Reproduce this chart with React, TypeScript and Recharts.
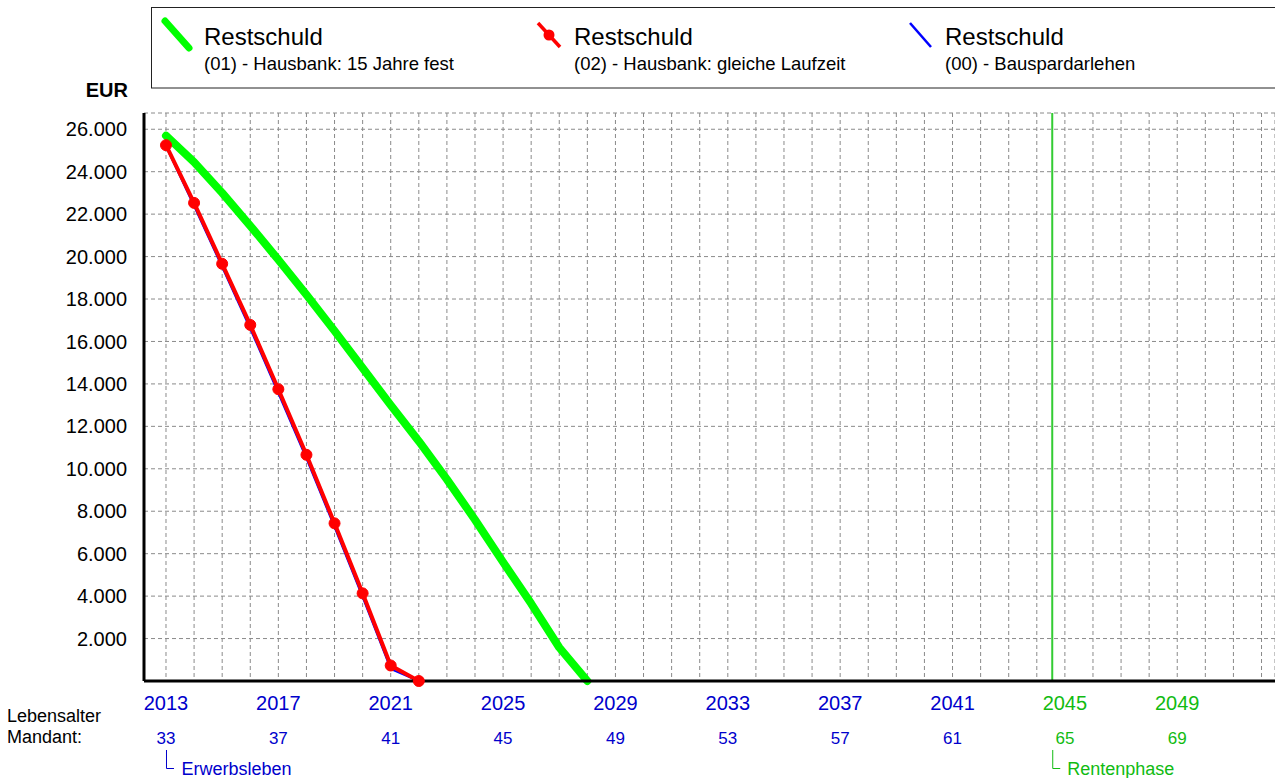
import React from 'react';
import { LineChart, Line, XAxis, YAxis, CartesianGrid, ReferenceLine } from 'recharts';

// ---- data ----
const YEARS = [2013, 2014, 2015, 2016, 2017, 2018, 2019, 2020, 2021, 2022, 2023, 2024, 2025, 2026, 2027, 2028];
const RESTSCHULD_01 = [25700, 24450, 23000, 21450, 19850, 18200, 16500, 14750, 13000, 11300, 9500, 7600, 5600, 3650, 1580, 0];
const RESTSCHULD_02 = [25250, 22530, 19660, 16780, 13750, 10660, 7430, 4130, 730, 0];
const RESTSCHULD_00 = [25200, 22380, 19500, 16600, 13560, 10480, 7250, 3950, 560, 0];

const GRID_YEARS = [2013, 2014, 2015, 2016, 2017, 2018, 2019, 2020, 2021, 2022, 2023, 2024, 2025, 2026, 2027, 2028, 2029, 2030, 2031, 2032, 2033, 2034, 2035, 2036, 2037, 2038, 2039, 2040, 2041, 2042, 2043, 2044, 2045, 2046, 2047, 2048, 2049, 2050, 2051, 2052];
const LABEL_YEARS = [2013, 2017, 2021, 2025, 2029, 2033, 2037, 2041, 2045, 2049];
const LABEL_AGES = [33, 37, 41, 45, 49, 53, 57, 61, 65, 69];
const Y_TICKS = [2000, 4000, 6000, 8000, 10000, 12000, 14000, 16000, 18000, 20000, 22000, 24000, 26000];
const RETIRE_X = 2044.55;
const START_YEAR = 2013;
const X_DOMAIN = [2012.217, 2052.48];
const Y_DOMAIN = [0, 26766];

const rows = YEARS.map((year, i) => ({
  year,
  r01: RESTSCHULD_01[i],
  r02: i < RESTSCHULD_02.length ? RESTSCHULD_02[i] : null,
  r00: i < RESTSCHULD_00.length ? RESTSCHULD_00[i] : null,
}));

const BLUE_TXT = '#0000cc';
const GREEN_TXT = '#11bb11';
const FONT = '"Liberation Sans", Arial, sans-serif';

const YearTick = (props: any) => {
  const { x, y, payload } = props;
  const v = payload && payload.value;
  const idx = LABEL_YEARS.indexOf(v);
  if (idx < 0) return <g />;
  const color = v >= RETIRE_X ? GREEN_TXT : BLUE_TXT;
  return (
    <g>
      <text x={x} y={y + 29} textAnchor="middle" fontSize={20} fill={color} fontFamily={FONT}>{v}</text>
      <text x={x} y={y + 62.5} textAnchor="middle" fontSize={17} fill={color} fontFamily={FONT}>{LABEL_AGES[idx]}</text>
      {v === START_YEAR ? (
        <g>
          <path d={`M${x + 0.5},${y + 69} L${x + 0.5},${y + 87.5} L${x + 8},${y + 87.5}`} stroke={BLUE_TXT} strokeWidth={1} fill="none" />
          <text x={x + 15.5} y={y + 93.5} fontSize={18} fill={BLUE_TXT} fontFamily={FONT}>Erwerbsleben</text>
        </g>
      ) : null}
    </g>
  );
};

const RentLabel = (props: any) => {
  const vb = props && props.viewBox;
  if (!vb) return null;
  const x = vb.x;
  const y = vb.y + (vb.height || 0);
  return (
    <g>
      <path d={`M${x + 0.5},${y + 69} L${x + 0.5},${y + 87.5} L${x + 8},${y + 87.5}`} stroke={GREEN_TXT} strokeWidth={1} fill="none" />
      <text x={x + 15} y={y + 93.5} fontSize={18} fill={GREEN_TXT} fontFamily={FONT}>Rentenphase</text>
    </g>
  );
};

export default function App() {
  return (
    <div style={{ position: 'absolute', left: 0, top: 0, width: 1275, height: 778, fontFamily: FONT, background: '#fff' }}>
      <LineChart width={1275} height={778} data={rows} margin={{ top: 113, right: 0, bottom: 0, left: 0 }}>
        <CartesianGrid stroke="#8a8a8a" strokeDasharray="4 3" strokeWidth={1} />
        <XAxis
          type="number"
          dataKey="year"
          domain={X_DOMAIN}
          ticks={GRID_YEARS}
          interval={0}
          tickLine={false}
          tickSize={0}
          tickMargin={0}
          height={97}
          axisLine={{ stroke: '#000', strokeWidth: 3 }}
          tick={<YearTick />}
        />
        <YAxis
          type="number"
          domain={Y_DOMAIN}
          ticks={Y_TICKS}
          interval={0}
          width={144}
          tickLine={false}
          tickSize={0}
          tickMargin={17}
          axisLine={{ stroke: '#000', strokeWidth: 3 }}
          tick={{ fontSize: 20, fill: '#000', fontFamily: FONT }}
          tickFormatter={(v: number) => (v / 1000).toFixed(3)}
        />
        <ReferenceLine x={RETIRE_X} stroke="#33cc33" strokeWidth={2} label={(p: any) => <RentLabel {...p} />} />
        <Line type="linear" dataKey="r01" stroke="#00ff00" strokeWidth={8} strokeLinejoin="round" strokeLinecap="round" dot={false} activeDot={false} isAnimationActive={false} />
        <Line type="linear" dataKey="r00" stroke="#0000ff" strokeWidth={2} dot={false} activeDot={false} isAnimationActive={false} />
        <Line type="linear" dataKey="r02" stroke="#ff0000" strokeWidth={4} dot={{ r: 5.5, fill: '#ff0000', stroke: '#ff0000', strokeWidth: 1 }} activeDot={false} isAnimationActive={false} />
      </LineChart>
      <svg width={1275} height={778} style={{ position: 'absolute', left: 0, top: 0, pointerEvents: 'none' }}>
        <rect x={151.5} y={7.5} width={1130} height={80.5} fill="none" stroke="#222" strokeWidth={1} />
        <line x1={165} y1={21} x2={189} y2={48} stroke="#00ff00" strokeWidth={7} strokeLinecap="round" />
        <text x={204} y={45} fontSize={24} fill="#000" fontFamily={FONT}>Restschuld</text>
        <text x={204} y={70} fontSize={18.5} fill="#000" fontFamily={FONT}>(01) - Hausbank: 15 Jahre fest</text>
        <line x1={538} y1={23} x2={560} y2={47} stroke="#ff0000" strokeWidth={3.5} />
        <circle cx={549} cy={35} r={5.5} fill="#ff0000" />
        <text x={574} y={45} fontSize={24} fill="#000" fontFamily={FONT}>Restschuld</text>
        <text x={574} y={70} fontSize={18.5} fill="#000" fontFamily={FONT}>(02) - Hausbank: gleiche Laufzeit</text>
        <line x1={910} y1={23} x2={931} y2={47} stroke="#0000ff" strokeWidth={2.5} />
        <text x={945} y={45} fontSize={24} fill="#000" fontFamily={FONT}>Restschuld</text>
        <text x={945} y={70} fontSize={18.5} fill="#000" fontFamily={FONT}>(00) - Bauspardarlehen</text>
        <text x={128} y={97} textAnchor="end" fontSize={20} fontWeight="bold" fill="#000" fontFamily={FONT}>EUR</text>
        <text x={7} y={721.5} fontSize={18} fill="#000" fontFamily={FONT}>Lebensalter</text>
        <text x={7} y={743} fontSize={18} fill="#000" fontFamily={FONT}>Mandant:</text>
      </svg>
    </div>
  );
}
